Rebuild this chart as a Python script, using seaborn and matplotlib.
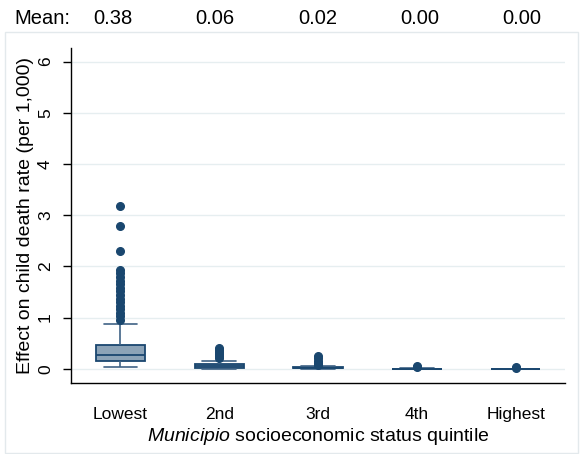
import numpy as np
import pandas as pd
import matplotlib
matplotlib.use("Agg")
import matplotlib.pyplot as plt
import seaborn as sns
from matplotlib.patches import Rectangle

# Quintile categories and the mean printed above each box
quintiles = ["Lowest", "2nd", "3rd", "4th", "Highest"]
mean_labels = ["0.38", "0.06", "0.02", "0.00", "0.00"]

# Effect on child death rate (per 1,000) per quintile
lowest = [0.04, 0.05, 0.06, 0.06, 0.07, 0.08, 0.08, 0.09, 0.10, 0.10, 0.11, 0.12,
          0.12, 0.13, 0.13, 0.14, 0.14, 0.15, 0.15, 0.16,
          0.17, 0.17, 0.18, 0.18, 0.19, 0.19, 0.20, 0.20, 0.21, 0.21, 0.22, 0.22,
          0.23, 0.23, 0.24, 0.25, 0.26, 0.26, 0.27,
          0.28, 0.29, 0.30, 0.31, 0.32, 0.33, 0.34, 0.35, 0.36, 0.37, 0.38, 0.39,
          0.40, 0.42, 0.43, 0.44, 0.45, 0.46, 0.47,
          0.88, 0.95, 1.02, 1.09, 1.16, 1.23, 1.30, 1.37, 1.44, 1.51, 1.58, 1.65,
          1.72, 1.79, 1.86, 1.93, 2.30, 2.78, 3.18]
second = [0.0, 0.002, 0.004, 0.006, 0.008, 0.01, 0.012, 0.015, 0.02, 0.025, 0.03,
          0.035, 0.04, 0.045, 0.05, 0.055, 0.06, 0.065, 0.07, 0.075, 0.08, 0.085,
          0.16, 0.21, 0.25, 0.29, 0.33, 0.37, 0.41]
third = [0.0, 0.001, 0.002, 0.003, 0.004, 0.005, 0.006, 0.007, 0.008, 0.009, 0.010,
         0.011, 0.012, 0.014, 0.016, 0.018, 0.020, 0.022, 0.025, 0.05, 0.08, 0.12,
         0.16, 0.20, 0.24]
fourth = [0.0, 0.0005, 0.0008, 0.001, 0.0013, 0.0016, 0.002, 0.0025, 0.003, 0.004,
          0.008, 0.03, 0.045]
highest = [0.0, 0.0002, 0.0004, 0.0005, 0.0007, 0.0009, 0.001, 0.0013, 0.0016,
           0.002, 0.004, 0.015, 0.025]

groups = [lowest, second, third, fourth, highest]
df = pd.DataFrame({
    "quintile": np.concatenate([[q] * len(g) for q, g in zip(quintiles, groups)]),
    "effect": np.concatenate(groups),
})

sns.set_theme(style="white")
plt.rcParams["font.family"] = ["Liberation Sans", "DejaVu Sans"]
plt.rcParams["mathtext.fontset"] = "custom"
plt.rcParams["mathtext.it"] = "Liberation Sans:italic"
plt.rcParams["mathtext.rm"] = "Liberation Sans"
for key in ["text.color", "axes.labelcolor", "xtick.color", "ytick.color"]:
    plt.rcParams[key] = "black"

W, H = 581, 454
fig = plt.figure(figsize=(W / 100, H / 100), dpi=100)
ax = fig.add_axes([71 / W, 1 - 383 / H, (565 - 71) / W, (383 - 47.7) / H])

navy = "#1a476f"
sns.boxplot(data=df, x="quintile", y="effect", order=quintiles, ax=ax,
            width=0.5, color="#8ca3b7", saturation=1, linecolor=navy, linewidth=1.3,
            flierprops=dict(marker="o", markersize=5.5, markerfacecolor=navy,
                            markeredgecolor=navy),
            whiskerprops=dict(color="#3f6285", linewidth=1.2),
            capprops=dict(color="#3f6285", linewidth=1.2),
            capwidths=0.34)

ax.set_xlim(-0.5, 4.5)
ax.set_ylim(-0.279, 6.27)
ax.set_yticks(range(7))
ax.set_yticklabels([str(v) for v in range(7)], rotation=90, va="center", fontsize=12.5)
ax.tick_params(axis="y", length=6, width=1, color="black", pad=7, left=True)
ax.tick_params(axis="x", length=0, pad=17, labelsize=12.5)
ax.yaxis.grid(True, color="#e6eef0", linewidth=1)
ax.set_axisbelow(True)
for side in ["top", "right"]:
    ax.spines[side].set_visible(False)
for side in ["left", "bottom"]:
    ax.spines[side].set_color("black")
    ax.spines[side].set_linewidth(1)

ax.set_ylabel("Effect on child death rate (per 1,000)", fontsize=14, labelpad=3)
ax.set_xlabel(r"$\it{Municipio}$ socioeconomic status quintile", fontsize=14, labelpad=3)

# mean row above the plot
fig.text(14 / W, 1 - 24 / H, "Mean:", fontsize=14.5, va="baseline", ha="left")
for i, m in enumerate(mean_labels):
    fig.text((113 + i * 102.25) / W, 1 - 24 / H, m, fontsize=14.5, va="baseline", ha="center")

fig.patches.append(Rectangle((5 / W, 1 - 453 / H), (578 - 5) / W, (453 - 32) / H,
                             transform=fig.transFigure, fill=False,
                             edgecolor="#e3e9ec", linewidth=1))

fig.savefig("out.png", dpi=100)
